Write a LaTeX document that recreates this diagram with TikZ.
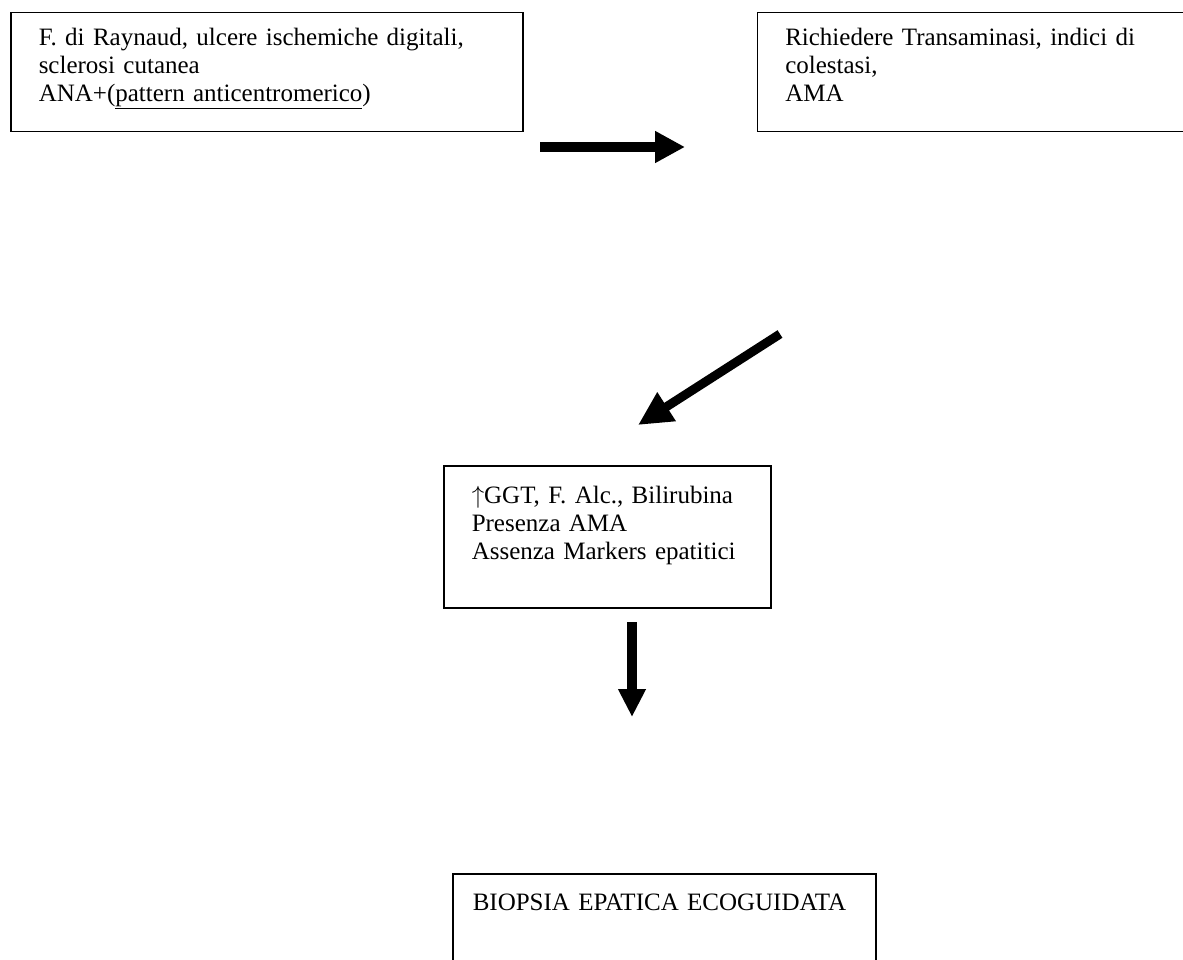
\documentclass[tikz,border=0pt]{standalone}
\usepackage{fontspec}
\setmainfont{Liberation Serif}
\usepackage{tikz}
\usetikzlibrary{arrows.meta, positioning}
\tikzset{
    casella/.style={
      draw, %box border
      line width=1.5pt,
      anchor=north west,
      align=left,
      inner xsep=28pt,
      inner ysep=0pt,
      font=\fontsize{25}{28}\selectfont, %Times-like text
    },
    freccia/.style={
      -{Triangle[length=30pt, width=30pt]}, %block arrow head
      line width=10pt,
    }
  }

\begin{document}
\begin{tikzpicture}[x=1pt, y=-1pt]
          \clip (0,0) rectangle (1183,960);
          \node[casella, text width=456pt, text height=33pt, text depth=86pt] (sintomi) at (10,12)
            {F. di Raynaud, ulcere ischemiche digitali,\\sclerosi cutanea\\ANA+(\underline{pattern anticentromerico})};
          \node[casella, text width=384pt, text height=33pt, text depth=86pt, right=233pt of sintomi] (esami)
            {Richiedere Transaminasi, indici di\\colestasi,\\AMA};
          \node[casella, text width=271pt, text height=38pt, text depth=104pt] (reperti) at (443,465)
            {$\uparrow$GGT, F. Alc., Bilirubina\\Presenza AMA\\Assenza Markers epatitici};
          \node[casella, inner xsep=20pt, text width=383pt, text height=37pt, text depth=110pt] (biopsia) at (452,873)
            {BIOPSIA EPATICA ECOGUIDATA};
    
          \coordinate (f1a) at (540,147);
          \coordinate (f1b) at (685,147);
          \coordinate (f2a) at (780,334);
          \coordinate (f2b) at (638,425);
          \coordinate (f3a) at (632,622);
          \coordinate (f3b) at (632,717);
    
          \draw[freccia] (f1a) -- (f1b);
          \draw[freccia, line width=9pt, -{Triangle[length=34pt, width=32pt]}] (f2a) -- (f2b);
          \draw[freccia, -{Triangle[length=28pt, width=26pt]}] (f3a) -- (f3b);
        \end{tikzpicture}
\end{document}
